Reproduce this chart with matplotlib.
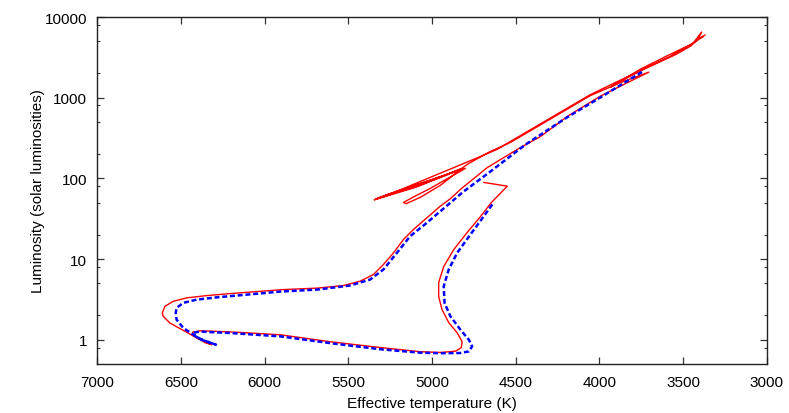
import numpy as np
import matplotlib
matplotlib.use('Agg')
import matplotlib.pyplot as plt
from matplotlib.ticker import FixedLocator, FixedFormatter, NullFormatter

plt.rcParams['font.family'] = ['Liberation Sans', 'DejaVu Sans']

# red track (solid): effective temperature (K) and luminosity (L_sun)
red_T = [4690, 4550, 4645, 4710, 4790, 4870, 4930, 4960, 4960, 4940, 4900, 4850,
         4820, 4825, 4860, 4950, 5070, 5310, 5610, 5905, 6205, 6385, 6430, 6425,
         6395, 6355, 6315,
         6405, 6485, 6565, 6605, 6610, 6595, 6545, 6465, 6345, 6205, 6045, 5890,
         5685, 5530, 5430, 5350, 5290, 5230, 5170, 5110, 5030, 4950, 4890, 4830,
         4670, 4490, 4350, 4190, 3995, 3845, 3705,
         3875, 4055, 4290, 4530, 4650, 4790,
         4950, 5070, 5155, 5170, 5115, 5010, 4800,
         5070, 5280, 5330, 5070, 4820, 5080, 5310, 5345, 5100, 4840, 5335,
         5190, 5010, 4830, 4610, 4530, 4290, 4055, 3875, 3695, 3545, 3455, 3410,
         3390, 3440, 3575, 3755, 3935, 3755, 3575, 3455, 3380, 3400, 3370]
red_L = [89, 80, 50.3, 33.7, 21.3, 13.1, 8.07, 5.11, 3.42, 2.36, 1.63, 1.22,
         0.945, 0.796, 0.72, 0.695, 0.71, 0.80, 0.945, 1.15, 1.25, 1.29, 1.24, 1.15,
         1.03, 0.918, 0.867,
         1.05, 1.305, 1.61, 1.95, 2.15, 2.59, 2.99, 3.30, 3.52, 3.73, 3.95, 4.18,
         4.36, 4.69, 5.30, 6.42, 8.55, 11.9, 17.5, 23.3, 32.5, 45.3, 56.0, 73.0,
         136, 229, 332, 589, 1044, 1493, 2074,
         1536, 1059, 548, 280, 216, 149,
         81.9, 58.1, 48.5, 50.3, 58.1, 75.1, 133,
         86.7, 61.5, 55.6, 83.0, 133, 80.7, 58.1, 54.1, 77.3, 126, 55.5,
         72.0, 103, 147, 229, 288, 564, 1089, 1650, 2461, 3420, 4363, 5330,
         6510, 4754, 3279, 2163, 1350, 2260, 3470, 4552, 5724, 5484, 5976]

# blue track (dashed)
blue_T = [4640, 4690, 4770, 4850, 4900, 4930, 4925, 4890, 4830, 4780, 4760, 4780,
          4830, 4950, 5070, 5310, 5605, 5905, 6205, 6385, 6425, 6415, 6365, 6290,
          6375, 6435, 6485, 6525, 6530, 6525, 6485, 6405, 6285, 6105, 5905, 5685,
          5490, 5370, 5290, 5210, 5130, 5030, 4890, 4810, 4650, 4440, 4195, 3995,
          3735]
blue_L = [47.5, 34.0, 20.2, 11.9, 7.41, 4.59, 2.86, 1.95, 1.33, 1.0, 0.826, 0.716,
          0.684, 0.68, 0.69, 0.762, 0.905, 1.10, 1.21, 1.26, 1.22, 1.105, 0.98, 0.867,
          1.0, 1.19, 1.40, 1.77, 2.15, 2.48, 2.86, 3.14, 3.35, 3.62, 3.95, 4.18,
          4.69, 5.56, 7.41, 11.9, 19.2, 28.2, 49.9, 69.0, 122, 264, 568, 1005,
          2153]

x_ticks = [7000, 6500, 6000, 5500, 5000, 4500, 4000, 3500, 3000]
y_ticks = [1, 10, 100, 1000, 10000]
y_minor = [0.8, 2, 5, 8, 20, 50, 80, 200, 500, 800, 2000, 5000, 8000]

fig = plt.figure(figsize=(7.89, 4.14), dpi=100)
ax = fig.add_axes([0.123, 0.1184, 0.849, 0.8381])

ax.plot(red_T, red_L, color='#ff0000', lw=1.0, solid_joinstyle='round')
ax.plot(blue_T, blue_L, color='#0000ff', lw=1.8, dashes=(2, 1.1))

ax.set_yscale('log')
ax.set_xlim(7000, 3000)
ax.set_ylim(0.5, 10000)

ax.xaxis.set_major_locator(FixedLocator(x_ticks))
ax.xaxis.set_major_formatter(FixedFormatter([str(t) for t in x_ticks]))
ax.yaxis.set_major_locator(FixedLocator(y_ticks))
ax.yaxis.set_major_formatter(FixedFormatter([str(t) for t in y_ticks]))
ax.yaxis.set_minor_locator(FixedLocator(y_minor))
ax.yaxis.set_minor_formatter(NullFormatter())

ax.tick_params(which='both', direction='in', top=True, right=True,
               color='#333333', labelsize=11, labelcolor='black')
ax.tick_params(which='major', length=5, width=0.9)
ax.tick_params(axis='x', which='major', pad=8)
ax.tick_params(axis='y', which='major', pad=7)
ax.tick_params(which='minor', length=2.5, width=0.8)
for s in ax.spines.values():
    s.set_color('#222222')
    s.set_linewidth(1.0)

ax.set_xlabel('Effective temperature (K)', fontsize=11, labelpad=5)
ax.set_ylabel('Luminosity (solar luminosities)', fontsize=11, labelpad=0)

fig.savefig('out.png', dpi=100)
